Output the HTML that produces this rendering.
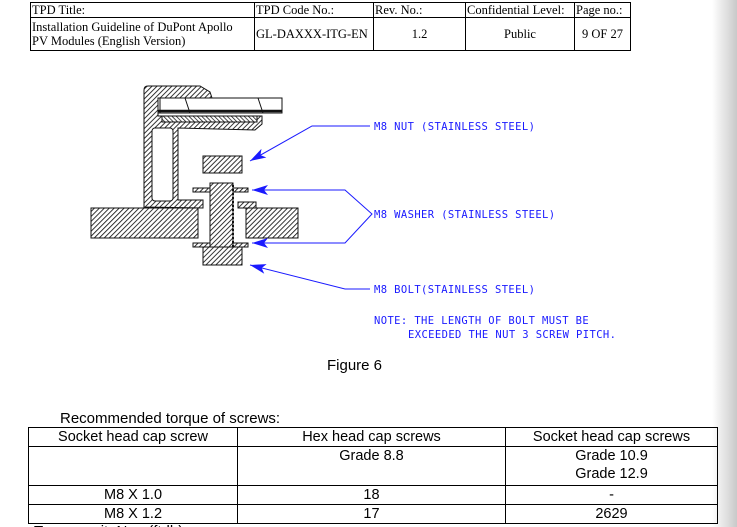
<!DOCTYPE html>
<html><head><meta charset="utf-8"><style>
html,body{margin:0;padding:0}
body{width:737px;height:527px;position:relative;overflow:hidden;background:#fff;font-family:"Liberation Sans",Arial,sans-serif}
.shade{position:absolute;left:712px;top:0;width:25px;height:527px;background:linear-gradient(to right,#fff,#c9c9c9)}
table{border-collapse:collapse;position:absolute}
#hdr{left:30px;top:2px;font-family:"Liberation Serif",serif;font-size:12.5px;line-height:14px}
#hdr td{border:1px solid #000;padding:0 1px;vertical-align:middle}
#tq{left:28px;top:427px;font-size:14.5px;line-height:18px}
#tq td{border:1px solid #000;text-align:center;padding:0;vertical-align:top}
.cad{font-family:"DejaVu Sans Mono","Liberation Mono",monospace;font-size:10.5px;fill:#1a1aff;letter-spacing:0.4px}
</style></head><body>
<div class="shade"></div>
<table id="hdr">
<tr style="height:15px"><td style="width:221px">TPD Title:</td><td style="width:116px">TPD Code No.:</td><td style="width:89px">Rev. No.:</td><td style="width:106px">Confidential Level:</td><td style="width:53px">Page no.:</td></tr>
<tr style="height:33px"><td>Installation Guideline of DuPont Apollo<br>PV Modules (English Version)</td><td>GL-DAXXX-ITG-EN</td><td style="text-align:center">1.2</td><td style="text-align:center">Public</td><td style="text-align:center">9 OF 27</td></tr>
</table>

<svg width="737" height="527" style="position:absolute;left:0;top:0">
<defs>
<pattern id="h" width="3.5" height="3.5" patternUnits="userSpaceOnUse" patternTransform="rotate(45)">
<rect width="4" height="4" fill="#fff"/><line x1="0" y1="0" x2="0" y2="4" stroke="#111" stroke-width="1.7"/></pattern>
<pattern id="h2" width="3" height="3" patternUnits="userSpaceOnUse" patternTransform="rotate(-45)">
<rect width="3" height="3" fill="#fff"/><line x1="0" y1="0" x2="0" y2="3" stroke="#111" stroke-width="1.5"/></pattern>
<marker id="a" markerWidth="16" markerHeight="10" refX="16" refY="5" orient="auto-start-reverse" markerUnits="userSpaceOnUse"><path d="M16,5 L0,0 L4,5 L0,10 Z" fill="#1a1aff"/></marker>
</defs>
<g stroke="#111" stroke-width="1">
<rect x="91" y="208" width="107" height="30" fill="url(#h)"/>
<rect x="246" y="208" width="52" height="30" fill="url(#h)"/>
<path d="M144,207 L144,90 Q144,86 148,86 L200,86 L210,92 L212,98 L158,98 L158,116 L262,116 L262,124 L255,130 L178,128 L178,200 L203,200 L203,208 Z" fill="url(#h)"/>
<rect x="152" y="128" width="21" height="73" rx="3" fill="#fff"/>
<rect x="238" y="202" width="18" height="6" fill="url(#h)"/>
<rect x="158" y="98" width="124" height="15" fill="#fff"/>
<line x1="158" y1="111" x2="282" y2="111" stroke-width="2.5"/>
<line x1="160" y1="98" x2="160" y2="113"/>
<line x1="185" y1="98" x2="190" y2="113"/>
<line x1="258" y1="98" x2="263" y2="113"/>
<rect x="162" y="116" width="95" height="6" fill="url(#h2)"/>
<rect x="203" y="156" width="39" height="17" fill="url(#h)"/>
<rect x="193" y="188" width="55" height="4" fill="url(#h)"/>
<rect x="193" y="243" width="55" height="4" fill="url(#h)"/>
<rect x="210" y="183" width="23" height="66" fill="url(#h)"/>
<line x1="233" y1="185" x2="233" y2="247" stroke-dasharray="2,2" stroke-width="2"/>
<rect x="203" y="247" width="39" height="18" fill="url(#h)"/>
</g>
<g stroke="#1a1aff" stroke-width="1" fill="none">
<polyline points="370,126 312,126 250,161" marker-end="url(#a)"/>
<polyline points="252,190 345,190 372,214 345,243 252,243" marker-start="url(#a)" marker-end="url(#a)"/>
<polyline points="370,289 345,289 250,265" marker-end="url(#a)"/>
</g>
<text class="cad" x="374" y="130">M8 NUT (STAINLESS STEEL)</text>
<text class="cad" x="374" y="218">M8 WASHER (STAINLESS STEEL)</text>
<text class="cad" x="374" y="293">M8 BOLT(STAINLESS STEEL)</text>
<text class="cad" x="374" y="324">NOTE: THE LENGTH OF BOLT MUST BE</text>
<text class="cad" x="408" y="338">EXCEEDED THE NUT 3 SCREW PITCH.</text>
<text x="327" y="370" font-size="15" font-family="Liberation Sans,Arial,sans-serif">Figure 6</text>
<text x="60" y="423" font-size="15" font-family="Liberation Sans,Arial,sans-serif">Recommended torque of screws:</text>
<text x="34" y="536" font-size="15" font-family="Liberation Sans,Arial,sans-serif">Torque unit: N.m (ft-lb)</text>
</svg>

<table id="tq">
<tr style="height:19px"><td style="width:208px">Socket head cap screw</td><td style="width:267px">Hex head cap screws</td><td style="width:211px">Socket head cap screws</td></tr>
<tr style="height:39px"><td></td><td>Grade 8.8</td><td>Grade 10.9<br>Grade 12.9</td></tr>
<tr style="height:19px"><td>M8 X 1.0</td><td>18</td><td>-</td></tr>
<tr style="height:18px"><td>M8 X 1.2</td><td>17</td><td>2629</td></tr>
</table>
</body></html>
